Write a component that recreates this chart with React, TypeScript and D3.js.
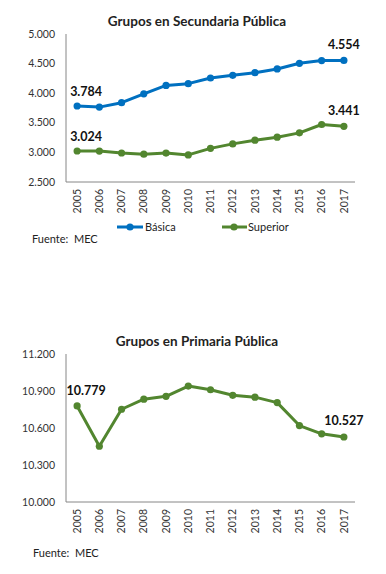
import React from "react";
import * as d3 from "d3";

const years = ["2005", "2006", "2007", "2008", "2009", "2010", "2011", "2012", "2013", "2014", "2015", "2016", "2017"];
const basica = [3784, 3765, 3840, 3990, 4132, 4161, 4257, 4302, 4347, 4410, 4505, 4551, 4554];
const superior = [3024, 3022, 2990, 2970, 2988, 2958, 3068, 3144, 3206, 3257, 3330, 3471, 3441];
const primaria = [10779, 10452, 10752, 10834, 10857, 10940, 10910, 10865, 10850, 10806, 10620, 10553, 10527];
const secTicks = [2500, 3000, 3500, 4000, 4500, 5000];
const priTicks = [10000, 10300, 10600, 10900, 11200];

const BLUE = "#0070C0";
const GREEN = "#52862F";
const AXIS = "#868686";
const FONT = "Lato, 'Open Sans', sans-serif";

const fmt = (v: number) => d3.format(",")(v).replace(/,/g, ".");
const fmtTick = (v: number) => d3.format(",.3f")(v / 1000).replace(/,/g, "").replace(".", ".");

type Series = { values: number[]; color: string; labelFirstDy: number; labelLastDy: number };

function LineChart({ top, title, domain, ticks, series }: { top: number; title: string; domain: [number, number]; ticks: number[]; series: Series[] }) {
  const left = 66;
  const right = 355;
  const plotTop = top + 34;
  const plotBottom = top + 182;

  const x = d3.scaleBand<string>().domain(years).range([left, right]);
  const y = d3.scaleLinear().domain(domain).range([plotBottom, plotTop]);
  const cx = (yr: string) => (x(yr) ?? 0) + x.bandwidth() / 2;

  const line = d3
    .line<number>()
    .x((_, i) => cx(years[i]))
    .y((d) => y(d));

  return (
    <g fontFamily={FONT}>
      <text x={197} y={top + 26} textAnchor="middle" fontSize={13.5} fontWeight="bold" fill="#222">
        {title}
      </text>

      {ticks.map((t) => (
        <text key={t} x={55} y={y(t)} dy="0.35em" textAnchor="end" fontSize={10.5} fill="#333">
          {fmtTick(t)}
        </text>
      ))}

      <line x1={left} x2={left} y1={plotTop} y2={plotBottom} stroke={AXIS} strokeWidth={1} />
      <line x1={left} x2={right} y1={plotBottom} y2={plotBottom} stroke={AXIS} strokeWidth={1} />

      {years.map((yr) => (
        <text
          key={yr}
          transform={`translate(${cx(yr)},${plotBottom + 7}) rotate(-90)`}
          textAnchor="end"
          dy="0.35em"
          fontSize={10.5}
          fill="#333"
        >
          {yr}
        </text>
      ))}

      {series.map((s, si) => (
        <g key={si}>
          <path d={line(s.values) ?? ""} fill="none" stroke={s.color} strokeWidth={3} strokeLinejoin="round" />
          {s.values.map((v, i) => (
            <circle key={i} cx={cx(years[i])} cy={y(v)} r={3.6} fill={s.color} />
          ))}
          <text x={cx(years[0]) + 9} y={y(s.values[0]) + s.labelFirstDy} textAnchor="middle" fontSize={12.5} fontWeight="bold" fill="#111">
            {fmt(s.values[0])}
          </text>
          <text
            x={cx(years[years.length - 1])}
            y={y(s.values[s.values.length - 1]) + s.labelLastDy}
            textAnchor="middle"
            fontSize={12.5}
            fontWeight="bold"
            fill="#111"
          >
            {fmt(s.values[s.values.length - 1])}
          </text>
        </g>
      ))}
    </g>
  );
}

export default function App() {
  return (
    <svg width={386} height={574} style={{ position: "absolute", left: 0, top: 0, background: "#fff" }}>
      <LineChart
        top={0}
        title="Grupos en Secundaria Pública"
        domain={[2500, 5000]}
        ticks={secTicks}
        series={[
          { values: basica, color: BLUE, labelFirstDy: -10, labelLastDy: -11 },
          { values: superior, color: GREEN, labelFirstDy: -10, labelLastDy: -11 },
        ]}
      />
      <g fontFamily={FONT} fontSize={11} fill="#222">
        <line x1={117} x2={143} y1={227} y2={227} stroke={BLUE} strokeWidth={3} />
        <circle cx={130} cy={227} r={3.6} fill={BLUE} />
        <text x={145} y={227} dy="0.35em">Básica</text>
        <line x1={222} x2={247} y1={227} y2={227} stroke={GREEN} strokeWidth={3} />
        <circle cx={234} cy={227} r={3.6} fill={GREEN} />
        <text x={248} y={227} dy="0.35em">Superior</text>
        <text x={32} y={243}>Fuente:&#160; MEC</text>
      </g>

      <LineChart
        top={320}
        title="Grupos en Primaria Pública"
        domain={[10000, 11200]}
        ticks={priTicks}
        series={[{ values: primaria, color: GREEN, labelFirstDy: -11, labelLastDy: -12 }]}
      />
      <g fontFamily={FONT} fontSize={11} fill="#222">
        <text x={33} y={557}>Fuente:&#160; MEC</text>
      </g>
    </svg>
  );
}
